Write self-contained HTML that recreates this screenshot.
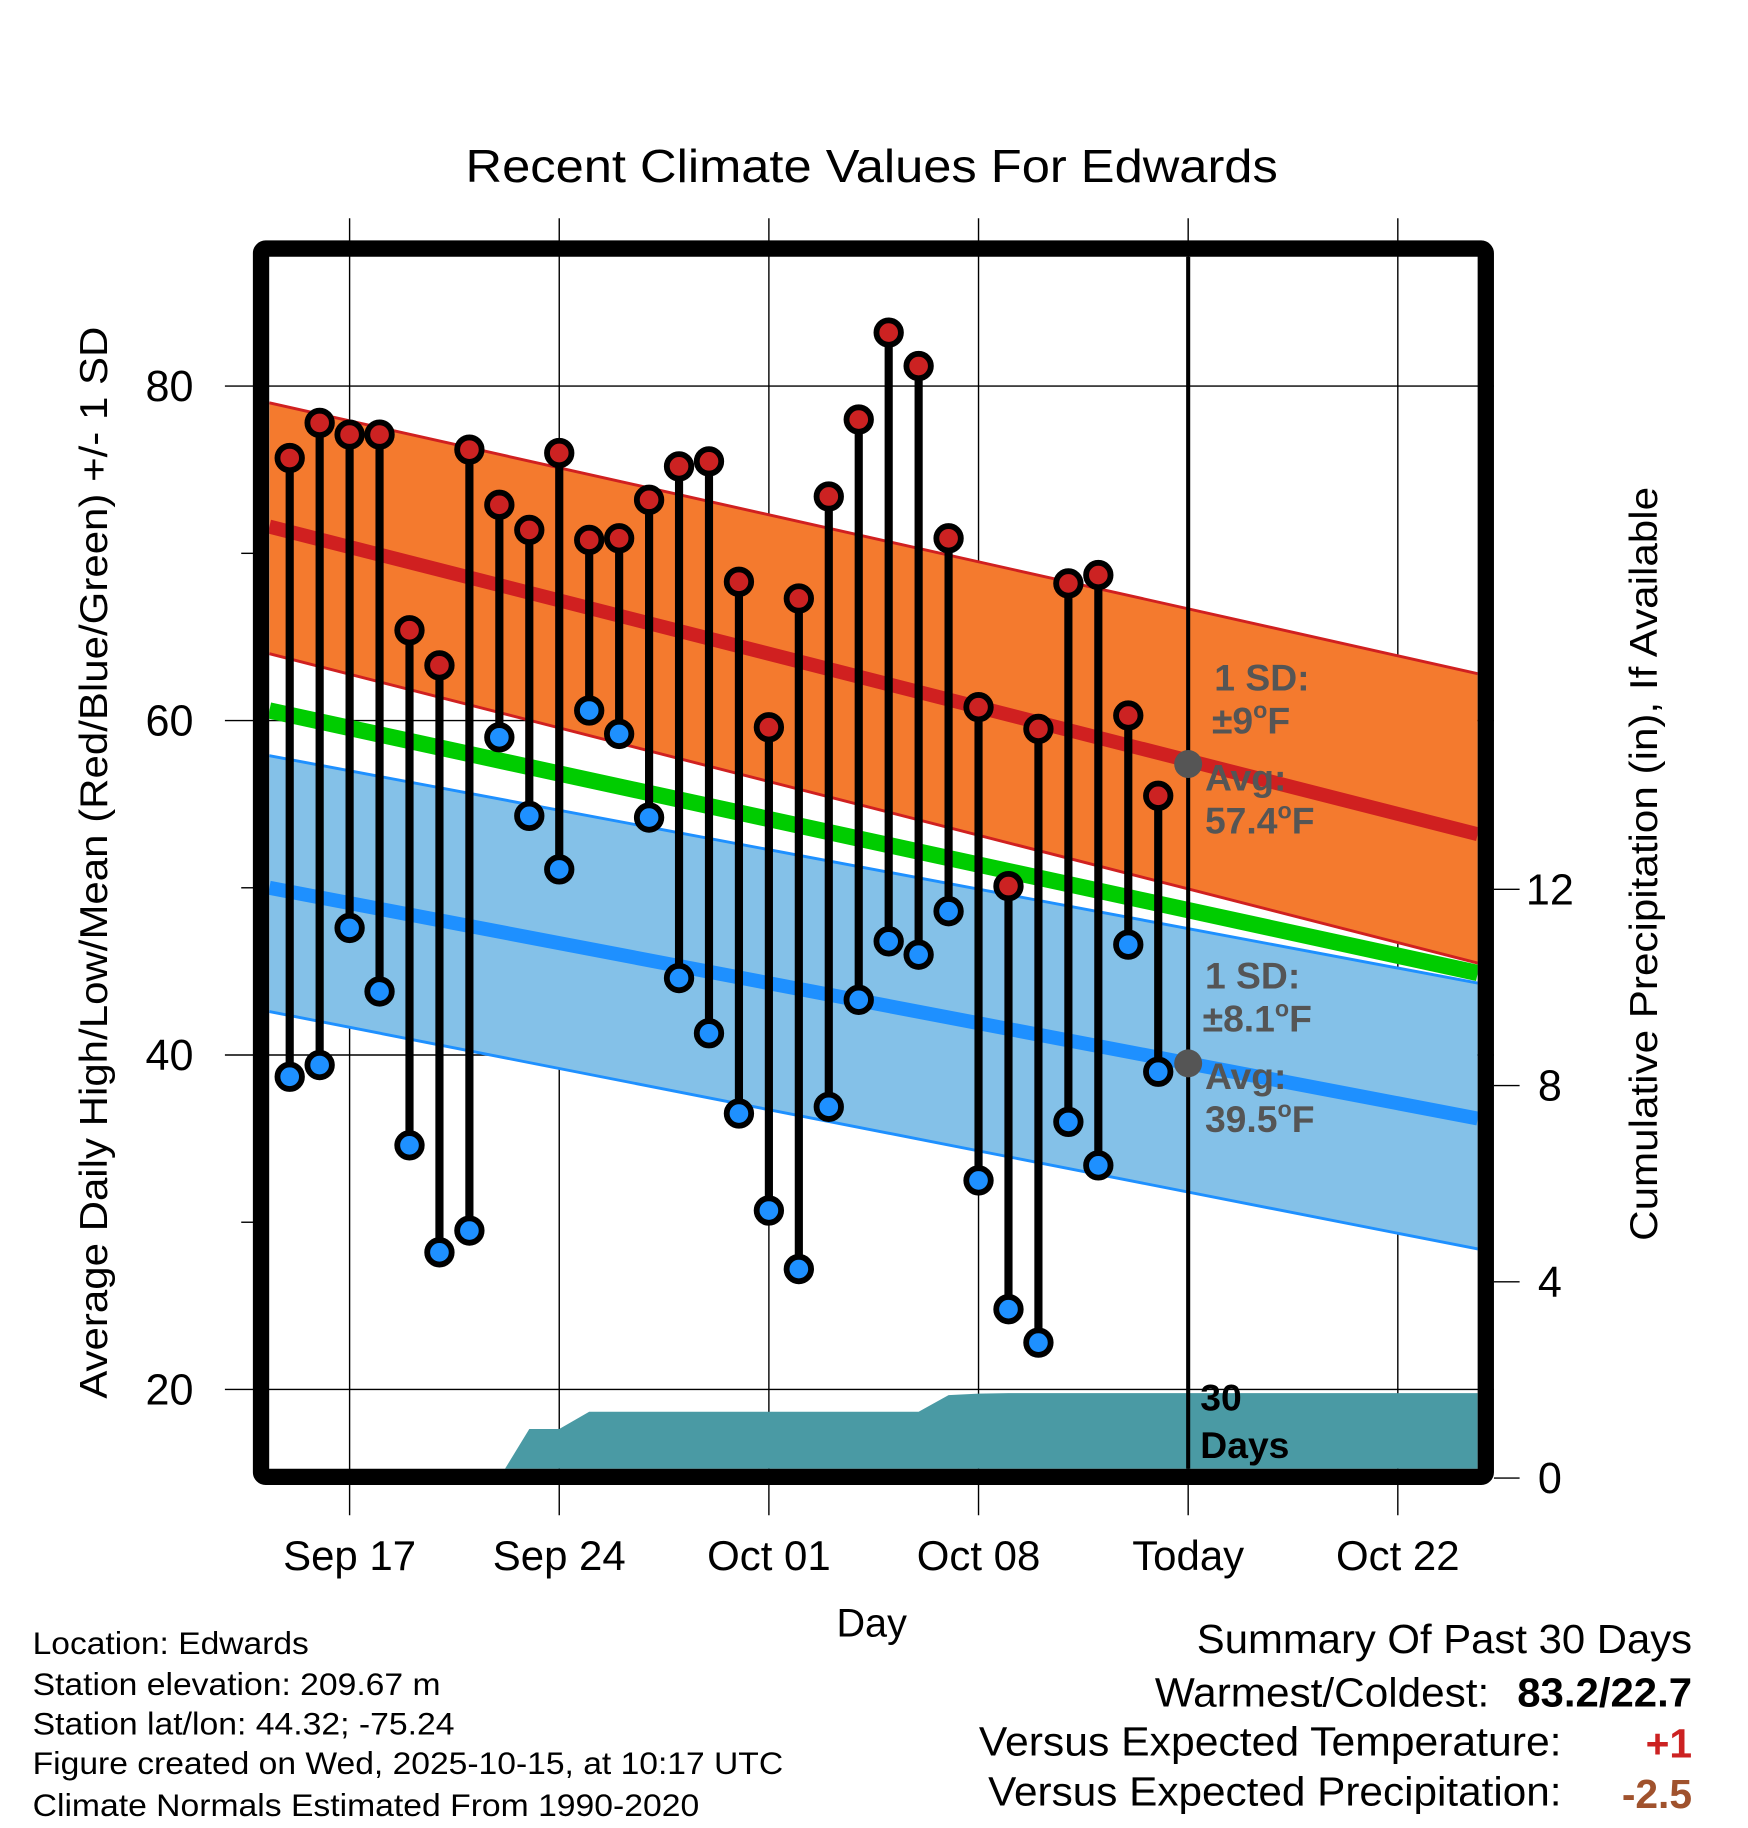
<!DOCTYPE html>
<html><head><meta charset="utf-8"><style>
html,body{margin:0;padding:0;background:#fff}
svg{display:block}
text{font-family:"Liberation Sans",Arial,sans-serif}
</style></head><body>
<svg id="chart" width="1748" height="1828" viewBox="0 0 1500 1568" xmlns="http://www.w3.org/2000/svg">
<defs><clipPath id="plotclip"><rect x="231" y="220" width="1037" height="1040"/></clipPath></defs>
<text x="748" y="156" font-size="40" text-anchor="middle" textLength="697" lengthAdjust="spacingAndGlyphs">Recent Climate Values For Edwards</text>
<g id="grid"></g>
<g id="plot" clip-path="url(#plotclip)"></g>
<g id="marks"></g>
<rect x="224" y="213" width="1051" height="1054" fill="none" stroke="#000" stroke-width="14" rx="4"/>
<g id="axes"></g>
<text transform="translate(92,740) rotate(-90)" font-size="33" text-anchor="middle" textLength="920" lengthAdjust="spacingAndGlyphs">Average Daily High/Low/Mean (Red/Blue/Green) +/- 1 SD</text>
<text transform="translate(1422,741) rotate(-90)" font-size="33" text-anchor="middle" textLength="647" lengthAdjust="spacingAndGlyphs">Cumulative Precipitation (in), If Available</text>
<text x="748" y="1404" font-size="34" text-anchor="middle">Day</text>
<g fill="#555" font-weight="bold" font-size="32">
<text x="1042" y="592">1 SD:</text>
<text x="1040" y="629">±9<tspan font-size="20" dy="-13">o</tspan><tspan dy="13">F</tspan></text>
<text x="1034" y="678">Avg:</text>
<text x="1034" y="715">57.4<tspan font-size="20" dy="-13">o</tspan><tspan dy="13">F</tspan></text>
</g>
<g fill="#555" font-weight="bold" font-size="32">
<text x="1034" y="848">1 SD:</text>
<text x="1032" y="885">±8.1<tspan font-size="20" dy="-13">o</tspan><tspan dy="13">F</tspan></text>
<text x="1034" y="934">Avg:</text>
<text x="1034" y="971">39.5<tspan font-size="20" dy="-13">o</tspan><tspan dy="13">F</tspan></text>
</g>
<g font-weight="bold" font-size="32">
<text x="1030" y="1210">30</text><text x="1030" y="1251">Days</text>
</g>
<g font-size="27">
<text x="28" y="1419" textLength="237" lengthAdjust="spacingAndGlyphs">Location: Edwards</text>
<text x="28" y="1454" textLength="350" lengthAdjust="spacingAndGlyphs">Station elevation: 209.67 m</text>
<text x="28" y="1488" textLength="362" lengthAdjust="spacingAndGlyphs">Station lat/lon: 44.32; -75.24</text>
<text x="28" y="1522" textLength="644" lengthAdjust="spacingAndGlyphs">Figure created on Wed, 2025-10-15, at 10:17 UTC</text>
<text x="28" y="1558" textLength="572" lengthAdjust="spacingAndGlyphs">Climate Normals Estimated From 1990-2020</text>
</g>
<g font-size="35">
<text x="1027" y="1418" textLength="425" lengthAdjust="spacingAndGlyphs">Summary Of Past 30 Days</text>
<text x="991" y="1464" textLength="287" lengthAdjust="spacingAndGlyphs">Warmest/Coldest:</text>
<text x="1302" y="1464" font-weight="bold" textLength="150" lengthAdjust="spacingAndGlyphs">83.2/22.7</text>
<text x="840" y="1506" textLength="500" lengthAdjust="spacingAndGlyphs">Versus Expected Temperature:</text>
<text x="1452" y="1508" font-weight="bold" fill="#cc2222" text-anchor="end">+1</text>
<text x="848" y="1549" textLength="492" lengthAdjust="spacingAndGlyphs">Versus Expected Precipitation:</text>
<text x="1452" y="1551" font-weight="bold" fill="#a0522d" text-anchor="end">-2.5</text>
</g>
</svg>
<script>
// day index 0 = Sep 17
const dayIdx = [-2,-1,0,1,2,3,4,5,6,7,8,9,10,11,12,13,14,15,16,17,18,19,20,21,22,23,24,25,26,27];
const highs = [75.7,77.8,77.1,77.1,65.4,63.3,76.2,72.9,71.4,76.0,70.8,70.9,73.2,75.2,75.5,68.3,59.6,67.3,73.4,78.0,83.2,81.2,70.9,60.8,50.1,59.5,68.2,68.7,60.3,55.5];
const lows = [38.7,39.4,47.6,43.8,34.6,28.2,29.5,59.0,54.3,51.1,60.6,59.2,54.2,44.6,41.3,36.5,30.7,27.2,36.9,43.3,46.8,46.0,48.6,32.5,24.8,22.8,36.0,33.4,46.6,39.0];
const precip = [0,0,0,0,0,0,0,0,1.0,1.0,1.35,1.35,1.35,1.35,1.35,1.35,1.35,1.35,1.35,1.35,1.35,1.35,1.69,1.72,1.73,1.73,1.73,1.73,1.73,1.73];
const normDays = [-2.68, 37.67];
const normHighUpper = [79.0, 62.8];
const normHigh = [71.6, 53.2];
const normHighLower = [64.0, 45.5];
const normMean = [60.6, 44.9];
const normLowUpper = [57.9, 44.3];
const normLow = [50.0, 36.2];
const normLowLower = [42.6, 28.4];
const todayDay = 28;
const todayHigh = 57.4, todayLow = 39.5;
const xTickDays = [0,7,14,21,28,35];
const xTickLabels = ["Sep 17","Sep 24","Oct 01","Oct 08","Today","Oct 22"];
const yTicks = [20,40,60,80];
const yMinor = [30,50,70];
const y2Ticks = [0,4,8,12];

const X = d => 300 + d*25.7;
const Y = v => 331 + (80 - v)*14.35;
const P = p => 1268 - p*42.1;
const NS = "http://www.w3.org/2000/svg";
function mk(parent, tag, attrs){const e=document.createElementNS(NS,tag);for(const k in attrs)e.setAttribute(k,attrs[k]);parent.appendChild(e);return e;}
const grid=document.getElementById('grid'), plot=document.getElementById('plot'), marks=document.getElementById('marks'), axes=document.getElementById('axes');

xTickDays.forEach((d,i)=>{
  const l=mk(grid,'line',{x1:X(d),x2:X(d),y1:187,y2:1300,stroke:'#000','stroke-width':1.2});
  
  
  const t=mk(axes,'text',{x:X(d),y:1347,'font-size':36,'text-anchor':'middle'});
  t.textContent=xTickLabels[i];
  
  
});
yTicks.forEach(v=>{
  const l=mk(grid,'line',{x1:193,x2:1282,y1:Y(v),y2:Y(v),stroke:'#000','stroke-width':1.2});
  
  
  const t=mk(axes,'text',{x:166,y:Y(v)+13,'font-size':37,'text-anchor':'end'});
  t.textContent=v;
  
  
});
yMinor.forEach(v=>{
  const l=mk(axes,'line',{x1:207,x2:220,y1:Y(v),y2:Y(v),stroke:'#000','stroke-width':1.2});
  
  
});
y2Ticks.forEach(p=>{
  const l=mk(axes,'line',{x1:1282,x2:1304,y1:P(p),y2:P(p),stroke:'#000','stroke-width':1.2});
  
  
  const t=mk(axes,'text',{x:1330,y:P(p)+13,'font-size':37,'text-anchor':'middle'});
  t.textContent=p;
  
  
});

function band(up,lo,fill,name){
  const pts=`${X(normDays[0])},${Y(up[0])} ${X(normDays[1])},${Y(up[1])} ${X(normDays[1])},${Y(lo[1])} ${X(normDays[0])},${Y(lo[0])}`;
  const p=mk(plot,'polygon',{points:pts,fill:fill});
  
  
}
function nline(arr,col,w,name){
  const l=mk(plot,'line',{x1:X(normDays[0]),y1:Y(arr[0]),x2:X(normDays[1]),y2:Y(arr[1]),stroke:col,'stroke-width':w});
  
  
}
band(normLowUpper,normLowLower,'#84c1e8','low-sd-band');
nline(normLowUpper,'#1e90ff',2.5,'low-sd-upper');
nline(normLowLower,'#1e90ff',2.5,'low-sd-lower');
nline(normMean,'#00cc00',14,'normal-mean-line');
band(normHighUpper,normHighLower,'#f47a2e','high-sd-band');
nline(normHighUpper,'#d02020',2.5,'high-sd-upper');
nline(normHighLower,'#d02020',2.5,'high-sd-lower');
nline(normHigh,'#d02020',12,'normal-high-line');
nline(normLow,'#1e90ff',12,'normal-low-line');

let pts=`${X(normDays[0])},${P(0)} `;
dayIdx.forEach((d,i)=>{pts+=`${X(d)},${P(precip[i])} `;});
pts+=`${X(normDays[1])},${P(precip[precip.length-1])} ${X(normDays[1])},${P(0)}`;
const pa=mk(plot,'polygon',{points:pts,fill:'#4a9aa4'});



const tl=mk(plot,'line',{x1:X(todayDay),x2:X(todayDay),y1:215,y2:1265,stroke:'#000','stroke-width':3.5});


[todayHigh,todayLow].forEach(v=>{
  const c=mk(plot,'circle',{cx:X(todayDay),cy:Y(v),r:12,fill:'#555'});
  
  
});

dayIdx.forEach((d,i)=>{
  const x=X(d);
  const s=mk(marks,'line',{x1:x,x2:x,y1:Y(highs[i]),y2:Y(lows[i]),stroke:'#000','stroke-width':7});
  
  
  const h=mk(marks,'circle',{cx:x,cy:Y(highs[i]),r:10.5,fill:'#cc2222',stroke:'#000','stroke-width':5});
  
  
  const lo=mk(marks,'circle',{cx:x,cy:Y(lows[i]),r:10.5,fill:'#1e90ff',stroke:'#000','stroke-width':5});
  
  
});
</script>
</body></html>
